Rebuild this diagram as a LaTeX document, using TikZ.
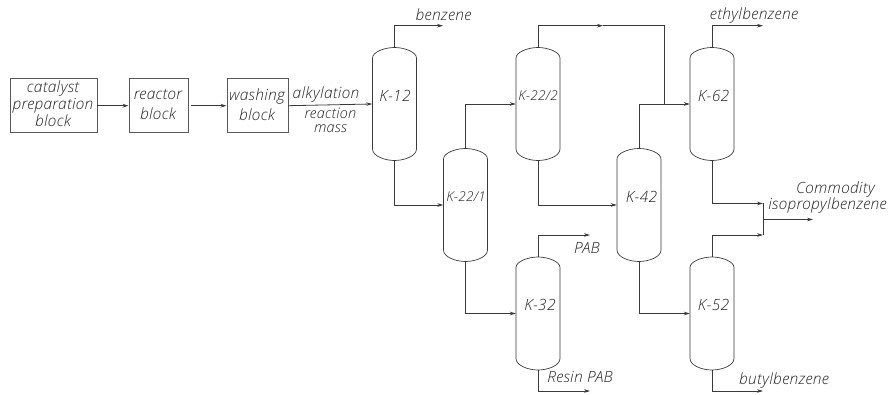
\documentclass[tikz,border=0pt]{standalone}
\usepackage{fontspec}
\setmainfont{Open Sans Light}[ItalicFont={Open Sans Light Italic},LetterSpace=2]
\usepackage{tikz}
\usetikzlibrary{positioning,arrows.meta}
\definecolor{clinea}{HTML}{3A3A3A}
\definecolor{ctexto}{HTML}{222222}
\tikzset{
  bloque/.style={rectangle, draw=clinea!85, line width=0.9pt, inner sep=0pt, anchor=north west},
  columna/.style={rectangle, minimum width=44pt, minimum height=113pt, inner sep=0pt},
  cuerpo/.style={draw=clinea, line width=0.7pt},
  flecha/.style={-{Stealth[length=6pt,width=3.6pt]}, line width=0.8pt, draw=clinea},
  linea/.style={line width=0.8pt, draw=clinea},
  etq/.style={font=\fontsize{15.5}{17}\selectfont\itshape, text=ctexto, align=center, inner sep=0pt},
  etqc/.style={etq, font=\fontsize{13.5}{13.5}\selectfont\itshape},
  etqm/.style={etq, font=\fontsize{14.5}{14}\selectfont\itshape},
}
\newcommand{\columna}[3]{%
  \node[columna] (#1) at (#2,#3) {};
  \draw[cuerpo, shift={(#2,#3)}] (-22,-46) -- (-22,45) .. controls (-22,52) and (-10,56.5) .. (0,56.5)
    .. controls (10,56.5) and (22,52) .. (22,45) -- (22,-46)
    .. controls (22,-52) and (10,-56.5) .. (0,-56.5) .. controls (-10,-56.5) and (-22,-52) .. (-22,-46) -- cycle;
}
\begin{document}
\begin{tikzpicture}[x=1pt,y=-1pt]
  \useasboundingbox (0,0) rectangle (889,395);
  % bloques
  \node[bloque, minimum width=87pt, minimum height=53.5pt] (cat) at (9.5,78.5) {};
  \node[bloque, minimum width=59pt, minimum height=53.5pt] (rea) at (128.5,78.5) {};
  \node[bloque, minimum width=61pt, minimum height=53.5pt] (was) at (226.5,78.5) {};
  \node[etq] (tcat) at (53,104) {catalyst\\[0pt]preparation\\[0pt]block\hspace{7pt}};
  \node[etq] (trea) at (158,104.5) {reactor\\[3pt]block};
  \node[etq] (twas) at (257,104.5) {washing\\[3pt]block};
  % columnas
  \columna{k12}{394.5}{104}
  \columna{k221}{465.5}{205}
  \columna{k222}{538}{104}
  \columna{k32}{538}{313.5}
  \columna{k42}{639}{205}
  \columna{k62}{712}{104}
  \columna{k52}{712}{313.5}
  \node[etq] (t12) at (395,96) {K-12};
  \node[etqc] (t221) at (466,197) {K-22/1};
  \node[etqc] (t222) at (538,96) {K-22/2};
  \node[etq] (t32) at (540,305) {K-32};
  \node[etq] (t42) at (641.5,197) {K-42};
  \node[etq] (t62) at (713.5,96) {K-62};
  \node[etq] (t52) at (713.5,305) {K-52};
  % salidas
  \coordinate (benceno) at (443,25.7);
  \coordinate (etil) at (763,25.7);
  \coordinate (pab) at (590,235);
  \coordinate (resina) at (590,391);
  \coordinate (butil) at (763,391);
  \coordinate (col) at (763,219.5);
  \coordinate (prod) at (813,219.5);
  \coordinate (medio) at (603,25.7);
  \coordinate (retorno) at (664.5,25.7);
  \draw[flecha] (cat.east)--(rea.west);
  \draw[flecha, shorten <=2.5pt] (rea.east)--(was.west);
  \draw[flecha] (was.east)--(k12.west);
  \draw[flecha] (k12.north) |- (benceno);
  \draw[flecha] (k12.south) |- (k221.west);
  \draw[flecha] (k221.north) |- (k222.west);
  \draw[flecha] (k221.south) |- (k32.west);
  \draw[flecha] (k222.south) |- (k42.west);
  \draw[flecha] (k222.north) |- (medio);
  \draw[linea] (medio) -- (retorno) -- (retorno |- k62.west);
  \draw[flecha] (k42.north) |- (k62.west);
  \draw[flecha] (k42.south) |- (k52.west);
  \draw[flecha] (k32.north) |- (pab);
  \draw[flecha] (k32.south) |- (resina);
  \draw[flecha] (k62.north) |- (etil);
  \draw[flecha] (k52.south) |- (butil);
  \draw[flecha] (k62.south) |- (col |- 0,203.5);
  \draw[flecha] (k52.north) |- (col |- 0,235);
  \draw[linea] (col |- 0,203.5) -- (col |- 0,235);
  \draw[flecha] (col) -- (prod);
  % etiquetas
  \node[etq] (tben) at (443.5,15) {benzene};
  \node[etq] (tmasa) at (326,94.5) {alkylation};
  \node[etqm] (tmasb) at (330.5,120) {reaction\\mass};
  \node[etq] (tetil) at (754,15) {ethylbenzene};
  \node[etq] (tcom) at (827.5,197) {\hspace*{16pt}Commodity\\[-1pt]isopropylbenzene};
  \node[etq] (tpab) at (587,247.5) {PAB};
  \node[etq] (tres) at (580,377) {Resin PAB};
  \node[etq] (tbut) at (784,380) {butylbenzene};
\end{tikzpicture}
\end{document}
